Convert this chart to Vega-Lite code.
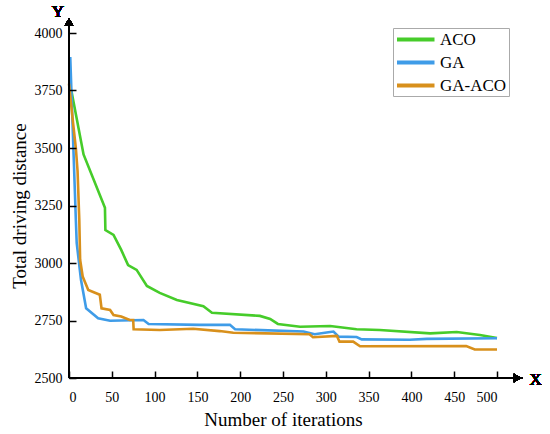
{
  "$schema": "https://vega.github.io/schema/vega-lite/v6.json",
  "width": 428,
  "height": 345,
  "autosize": {"type": "none"},
  "padding": {"left": 69, "top": 33, "right": 53, "bottom": 56},
  "background": "white",
  "config": {
    "view": {"stroke": null, "fill": null},
    "font": "Liberation Serif"
  },
  "data": {
    "values": [
      {"it": 0, "d": 3755, "alg": "ACO"},
      {"it": 3, "d": 3745, "alg": "ACO"},
      {"it": 17, "d": 3472, "alg": "ACO"},
      {"it": 42, "d": 3240, "alg": "ACO"},
      {"it": 42.5, "d": 3143, "alg": "ACO"},
      {"it": 52, "d": 3122, "alg": "ACO"},
      {"it": 61, "d": 3057, "alg": "ACO"},
      {"it": 69, "d": 2991, "alg": "ACO"},
      {"it": 79, "d": 2970, "alg": "ACO"},
      {"it": 91, "d": 2900, "alg": "ACO"},
      {"it": 106, "d": 2870, "alg": "ACO"},
      {"it": 126, "d": 2839, "alg": "ACO"},
      {"it": 157, "d": 2812, "alg": "ACO"},
      {"it": 167, "d": 2784, "alg": "ACO"},
      {"it": 223, "d": 2770, "alg": "ACO"},
      {"it": 235, "d": 2757, "alg": "ACO"},
      {"it": 244, "d": 2735, "alg": "ACO"},
      {"it": 270, "d": 2723, "alg": "ACO"},
      {"it": 305, "d": 2726, "alg": "ACO"},
      {"it": 336, "d": 2712, "alg": "ACO"},
      {"it": 363, "d": 2709, "alg": "ACO"},
      {"it": 422, "d": 2694, "alg": "ACO"},
      {"it": 453, "d": 2700, "alg": "ACO"},
      {"it": 480, "d": 2687, "alg": "ACO"},
      {"it": 500, "d": 2674, "alg": "ACO"},
      {"it": 0, "d": 3890, "alg": "GA"},
      {"it": 1.5, "d": 3890, "alg": "GA"},
      {"it": 8, "d": 3188, "alg": "GA"},
      {"it": 9, "d": 3087, "alg": "GA"},
      {"it": 14, "d": 2927, "alg": "GA"},
      {"it": 20, "d": 2803, "alg": "GA"},
      {"it": 34, "d": 2760, "alg": "GA"},
      {"it": 48, "d": 2749, "alg": "GA"},
      {"it": 87, "d": 2752, "alg": "GA"},
      {"it": 93, "d": 2735, "alg": "GA"},
      {"it": 153, "d": 2731, "alg": "GA"},
      {"it": 188, "d": 2731, "alg": "GA"},
      {"it": 194, "d": 2712, "alg": "GA"},
      {"it": 274, "d": 2702, "alg": "GA"},
      {"it": 287, "d": 2690, "alg": "GA"},
      {"it": 303, "d": 2699, "alg": "GA"},
      {"it": 309, "d": 2702, "alg": "GA"},
      {"it": 315, "d": 2680, "alg": "GA"},
      {"it": 336, "d": 2678, "alg": "GA"},
      {"it": 342, "d": 2668, "alg": "GA"},
      {"it": 398, "d": 2666, "alg": "GA"},
      {"it": 418, "d": 2670, "alg": "GA"},
      {"it": 500, "d": 2673, "alg": "GA"},
      {"it": 0, "d": 3780, "alg": "GA-ACO"},
      {"it": 5, "d": 3600, "alg": "GA-ACO"},
      {"it": 8, "d": 3500, "alg": "GA-ACO"},
      {"it": 10, "d": 3400, "alg": "GA-ACO"},
      {"it": 12, "d": 3190, "alg": "GA-ACO"},
      {"it": 13, "d": 3014, "alg": "GA-ACO"},
      {"it": 16, "d": 2941, "alg": "GA-ACO"},
      {"it": 22.5, "d": 2883, "alg": "GA-ACO"},
      {"it": 36, "d": 2862, "alg": "GA-ACO"},
      {"it": 38, "d": 2803, "alg": "GA-ACO"},
      {"it": 48, "d": 2796, "alg": "GA-ACO"},
      {"it": 52, "d": 2774, "alg": "GA-ACO"},
      {"it": 61, "d": 2767, "alg": "GA-ACO"},
      {"it": 71, "d": 2752, "alg": "GA-ACO"},
      {"it": 75, "d": 2752, "alg": "GA-ACO"},
      {"it": 75.5, "d": 2712, "alg": "GA-ACO"},
      {"it": 106, "d": 2709, "alg": "GA-ACO"},
      {"it": 145, "d": 2714, "alg": "GA-ACO"},
      {"it": 176, "d": 2704, "alg": "GA-ACO"},
      {"it": 192, "d": 2697, "alg": "GA-ACO"},
      {"it": 281, "d": 2690, "alg": "GA-ACO"},
      {"it": 285, "d": 2677, "alg": "GA-ACO"},
      {"it": 313, "d": 2683, "alg": "GA-ACO"},
      {"it": 316, "d": 2658, "alg": "GA-ACO"},
      {"it": 332, "d": 2658, "alg": "GA-ACO"},
      {"it": 340, "d": 2638, "alg": "GA-ACO"},
      {"it": 464, "d": 2639, "alg": "GA-ACO"},
      {"it": 474, "d": 2624, "alg": "GA-ACO"},
      {"it": 500, "d": 2624, "alg": "GA-ACO"}
    ]
  },
  "layer": [
    {
      "mark": {"type": "line", "strokeWidth": 2.6, "clip": false},
      "encoding": {
        "x": {
          "field": "it", "type": "quantitative",
          "scale": {"domain": [0, 500], "nice": false},
          "axis": {
            "title": "Number of iterations",
            "values": [0, 50, 100, 150, 200, 250, 300, 350, 400, 450, 500],
            "format": "d",
            "offset": -7,
            "zindex": 1,
            "domain": false, "grid": false,
            "ticks": true, "tickSize": 7, "tickColor": "#000", "tickWidth": 1.5,
            "labelPadding": 12, "labelFontSize": 14, "labelColor": "#000",
            "labelFont": "Liberation Serif",
            "titleFont": "Liberation Serif", "titleFontSize": 19, "titleFontWeight": "normal",
            "titleColor": "#000", "titlePadding": 6
          }
        },
        "y": {
          "field": "d", "type": "quantitative",
          "scale": {"domain": [2500, 4000], "nice": false, "zero": false},
          "axis": {
            "title": "Total driving distance",
            "values": [2500, 2750, 3000, 3250, 3500, 3750, 4000],
            "format": "d",
            "offset": -7,
            "zindex": 1,
            "domain": false, "grid": false,
            "ticks": true, "tickSize": 7, "tickColor": "#000", "tickWidth": 1.5,
            "labelPadding": 7, "labelFontSize": 14, "labelColor": "#000",
            "labelFont": "Liberation Serif",
            "titleFont": "Liberation Serif", "titleFontSize": 19, "titleFontWeight": "normal",
            "titleColor": "#000", "titlePadding": 5
          }
        },
        "color": {
          "field": "alg", "type": "nominal",
          "scale": {"domain": ["ACO", "GA", "GA-ACO"], "range": ["#46cc2a", "#3f9ce8", "#d8901c"]},
          "legend": {
            "title": null,
            "orient": "none",
            "legendX": 324,
            "legendY": -5,
            "symbolType": "M-1,0H4",
            "symbolSize": 225,
            "symbolStrokeWidth": 4,
            "labelFont": "Liberation Serif",
            "labelFontSize": 17,
            "labelColor": "#000",
            "rowPadding": 5,
            "padding": 2,
            "strokeColor": "#aaaaaa",
            "fillColor": "white",
            "labelOffset": 26
          }
        }
      }
    },
    {
      "mark": {"type": "rule", "color": "#000", "strokeWidth": 1.3},
      "encoding": {"x": {"datum": 0}, "x2": {"datum": 530}, "y": {"datum": 2500}}
    },
    {
      "mark": {"type": "rule", "color": "#000", "strokeWidth": 1.3},
      "encoding": {"x": {"datum": 0}, "y": {"datum": 2500}, "y2": {"datum": 4060}}
    },
    {
      "mark": {"type": "point", "shape": "triangle-right", "filled": true, "color": "#000", "size": 70, "opacity": 1},
      "encoding": {"x": {"datum": 524}, "y": {"datum": 2500}}
    },
    {
      "mark": {"type": "point", "shape": "triangle-up", "filled": true, "color": "#000", "size": 70, "opacity": 1},
      "encoding": {"x": {"datum": 0}, "y": {"datum": 4048}}
    },
    {
      "mark": {"type": "text", "text": "X", "font": "Liberation Serif", "fontSize": 17, "color": "#000", "baseline": "middle"},
      "encoding": {"x": {"datum": 545}, "y": {"datum": 2490}}
    },
    {
      "mark": {"type": "text", "text": "Y", "font": "Liberation Serif", "fontSize": 17, "color": "#000", "baseline": "middle"},
      "encoding": {"x": {"datum": -13}, "y": {"datum": 4090}}
    }
  ]
}
